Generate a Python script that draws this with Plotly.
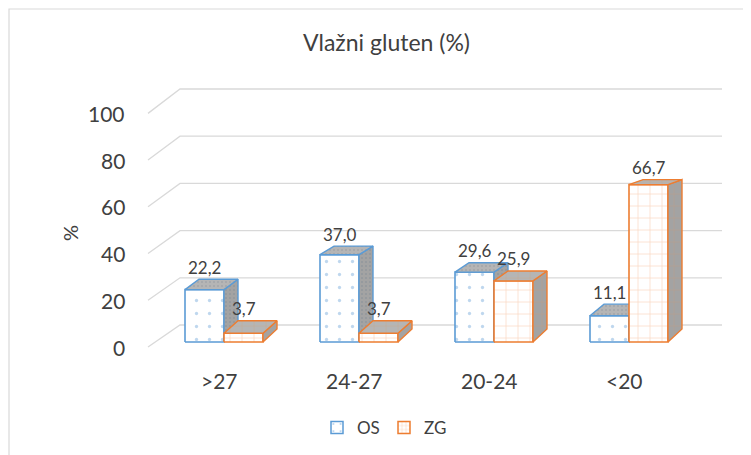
import plotly.graph_objects as go

# ---------------- data ----------------
categories = [">27", "24-27", "20-24", "<20"]
os_values = [22.2, 37.0, 29.6, 11.1]
zg_values = [3.7, 3.7, 25.9, 66.7]
series_names = ["OS", "ZG"]
y_ticks = [0, 20, 40, 60, 80, 100]
title_text = "Vlažni gluten (%)"
y_title = "%"

# ---------------- styling / geometry constants ----------------
W, H = 751, 455
PAGE_OFF = 8            # default body margin of the html page
FIG_W, FIG_H = W - PAGE_OFF, H - PAGE_OFF
PX_PER_CAT = 135.0      # pixels between category centres
PX_PER_UNIT = 2.36      # pixels per value unit
X0_PX = 224             # window pixel of first category centre
Y0_PX = 342             # window pixel of value 0 (front plane)

OS_LINE = "#5b9bd5"
ZG_LINE = "#ed7d31"
TEXT = "#404040"
GRID = "#d9d9d9"
FONT = "Lato"


def dx(px):
    return px / PX_PER_CAT


def dy(px):
    return px / PX_PER_UNIT


def paper_x(px):
    return (px - PAGE_OFF) / FIG_W


def paper_y(py):
    return 1 - (py - PAGE_OFF) / FIG_H


BAR_W = dx(39)
DEPTH_X = dx(14)


def depth_y(v):
    return dy(13 - 0.12 * v)


def fmt(v):
    return f"{v:.1f}".replace(".", ",")


def faces(values, offset):
    fx, fy, sx, sy, tx, ty = [], [], [], [], [], []
    for i, v in enumerate(values):
        x0 = i + offset
        x1 = x0 + BAR_W
        d0 = depth_y(0)
        dv = depth_y(v)
        fx += [x0, x1, x1, x0, x0, None]
        fy += [0, 0, v, v, 0, None]
        sx += [x1, x1 + DEPTH_X, x1 + DEPTH_X, x1, x1, None]
        sy += [0, d0, v + dv, v, 0, None]
        tx += [x0, x1, x1 + DEPTH_X, x0 + DEPTH_X, x0, None]
        ty += [v, v, v + dv, v + dv, v, None]
    return (fx, fy), (sx, sy), (tx, ty)


fig = go.Figure()

# perspective gridlines (left wall diagonal + back wall)
gx, gy = [], []
for t in y_ticks:
    gx += [dx(148 - X0_PX), dx(180 - X0_PX), dx(722 - X0_PX), None]
    gy += [t * 0.99 - dy(5), t + dy(17), t + dy(17), None]
fig.add_trace(go.Scatter(x=gx, y=gy, mode="lines", line=dict(color=GRID, width=1.3),
                         hoverinfo="skip", showlegend=False))


def add_bar_series(values, offset, line_color, front_pattern, side_pattern, top_pattern):
    front, side, top = faces(values, offset)
    fig.add_trace(go.Scatter(x=front[0], y=front[1], mode="lines", fill="toself",
                             fillcolor="white", fillpattern=front_pattern,
                             line=dict(color=line_color, width=1.6),
                             hoverinfo="skip", showlegend=False))
    fig.add_trace(go.Scatter(x=side[0], y=side[1], mode="lines", fill="toself",
                             fillcolor="#a3a3a3", fillpattern=side_pattern,
                             line=dict(color=line_color, width=1.4),
                             hoverinfo="skip", showlegend=False))
    fig.add_trace(go.Scatter(x=top[0], y=top[1], mode="lines", fill="toself",
                             fillcolor="#b5b5b5", fillpattern=top_pattern,
                             line=dict(color=line_color, width=1.4),
                             hoverinfo="skip", showlegend=False))


os_front_pat = dict(shape=".", fgcolor="#7fb0dd", bgcolor="white", size=13, solidity=0.05)
zg_front_pat = dict(shape="+", fgcolor="#f5b488", bgcolor="white", size=12, solidity=0.12)
os_side_pat = dict(shape=".", fgcolor="#7f8a96", bgcolor="#a3a3a3", size=4, solidity=0.2)
os_top_pat = dict(shape=".", fgcolor="#8f969e", bgcolor="#b5b5b5", size=4, solidity=0.2)
zg_side_pat = dict(shape="+", fgcolor="#c49a7e", bgcolor="#a3a3a3", size=12, solidity=0.12)
zg_top_pat = dict(shape="+", fgcolor="#c9a386", bgcolor="#b5b5b5", size=12, solidity=0.12)

add_bar_series(os_values, -BAR_W, OS_LINE, os_front_pat, os_side_pat, os_top_pat)
add_bar_series(zg_values, 0.0, ZG_LINE, zg_front_pat, zg_side_pat, zg_top_pat)

# legend entries
fig.add_trace(go.Bar(x=[None], y=[None], name=series_names[0],
                     marker=dict(color="white", line=dict(color=OS_LINE, width=1.5),
                                 pattern=dict(shape=".", fgcolor=OS_LINE, bgcolor="white",
                                              size=9, solidity=0.06))))
fig.add_trace(go.Bar(x=[None], y=[None], name=series_names[1],
                     marker=dict(color="white", line=dict(color=ZG_LINE, width=1.5),
                                 pattern=dict(shape="+", fgcolor="#f3a673", bgcolor="white",
                                              size=5, solidity=0.25))))

annotations = []
# data labels
for i, v in enumerate(os_values):
    annotations.append(dict(x=i - BAR_W / 2, y=v + depth_y(v) + dy(12), text=fmt(v),
                            showarrow=False, xanchor="center", yanchor="middle",
                            font=dict(family=FONT, size=17, color=TEXT)))
for i, v in enumerate(zg_values):
    annotations.append(dict(x=i + BAR_W / 2, y=v + depth_y(v) + dy(12), text=fmt(v),
                            showarrow=False, xanchor="center", yanchor="middle",
                            font=dict(family=FONT, size=17, color=TEXT)))
# y tick labels
for t in y_ticks:
    annotations.append(dict(x=dx(127 - X0_PX), y=t * 0.99 - dy(5), text=str(t),
                            showarrow=False, xanchor="right", yanchor="middle",
                            font=dict(family=FONT, size=21, color=TEXT)))
# category labels
for i, c in enumerate(categories):
    annotations.append(dict(x=i - dx(5), y=dy(-38), text=c, showarrow=False,
                            xanchor="center", yanchor="middle",
                            font=dict(family=FONT, size=21, color=TEXT)))
# y axis title
annotations.append(dict(x=dx(70 - X0_PX), y=dy(342 - 233), text=y_title, showarrow=False,
                        textangle=-90, xanchor="center", yanchor="middle",
                        font=dict(family=FONT, size=20, color=TEXT)))
# chart title
annotations.append(dict(xref="paper", yref="paper", x=paper_x(386), y=paper_y(42),
                        text=title_text, showarrow=False, xanchor="center", yanchor="middle",
                        font=dict(family=FONT, size=23, color=TEXT)))

fig.update_layout(
    width=FIG_W, height=FIG_H,
    margin=dict(l=0, r=0, t=0, b=0),
    paper_bgcolor="white", plot_bgcolor="white",
    xaxis=dict(visible=False, range=[dx(PAGE_OFF - X0_PX), dx(W - X0_PX)], type="linear",
               fixedrange=True),
    yaxis=dict(visible=False, range=[dy(Y0_PX - H), dy(Y0_PX - PAGE_OFF)], fixedrange=True),
    annotations=annotations,
    showlegend=True,
    legend=dict(orientation="h", x=paper_x(384), xanchor="center", y=paper_y(428),
                yanchor="middle", font=dict(family=FONT, size=17, color=TEXT), itemwidth=30,
                entrywidth=22, entrywidthmode="pixels", bgcolor="rgba(0,0,0,0)"),
    shapes=[dict(type="rect", xref="paper", yref="paper", x0=paper_x(9), y0=-0.05, x1=1.05,
                 y1=paper_y(9), line=dict(color=GRID, width=1.2), fillcolor="rgba(0,0,0,0)",
                 layer="below")],
)

fig.write_html("out.html")
